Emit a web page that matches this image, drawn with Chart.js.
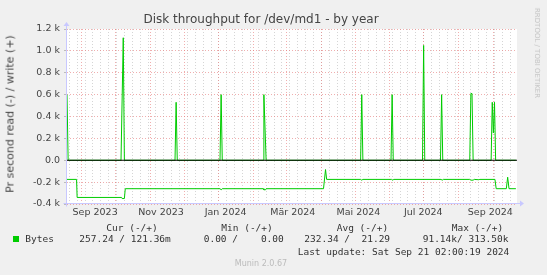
<!DOCTYPE html>
<html>
<head>
<meta charset="utf-8">
<script src="https://cdn.jsdelivr.net/npm/chart.js@4"></script>
<style>
  body { margin: 0; background: #f0f0f0; }
  #wrap { position: relative; width: 547px; height: 275px; }
  canvas { display: block; }
  .t { position: absolute; white-space: pre; color: #444; font-family: 'DejaVu Sans', sans-serif; }
  .mono { font-family: 'DejaVu Sans Mono', monospace; font-size: 9.5px; line-height: 12px; color: #333; }
</style>
</head>
<body>
<div id="wrap">
  <canvas id="diskChart" width="547" height="275"></canvas>
  <div class="t" style="left:0;width:522px;top:12px;text-align:center;font-size:12px;line-height:14px;">Disk throughput for /dev/md1 - by year</div>
  <div class="t" style="left:10px;top:114px;font-size:11px;transform:translate(-50%,-50%) rotate(-90deg);">Pr second read (-) / write (+)</div>
  <div class="t" style="left:537px;top:53px;font-size:7px;color:#c4c4c4;transform:translate(-50%,-50%) rotate(90deg);">RRDTOOL / TOBI OETIKER</div>

  <div class="t mono" style="left:106.3px;top:221.7px;">Cur (-/+)</div>
  <div class="t mono" style="left:221.3px;top:221.7px;">Min (-/+)</div>
  <div class="t mono" style="left:336.7px;top:221.7px;">Avg (-/+)</div>
  <div class="t mono" style="left:451.7px;top:221.7px;">Max (-/+)</div>

  <div style="position:absolute;left:13px;top:236px;width:6px;height:6px;background:#00cc00;"></div>
  <div class="t mono" style="left:25.3px;top:233.3px;">Bytes</div>
  <div class="t mono" style="left:79.3px;top:233.3px;">257.24 / 121.36m</div>
  <div class="t mono" style="left:203.7px;top:233.3px;">0.00 /    0.00</div>
  <div class="t mono" style="left:304.3px;top:233.3px;">232.34 /  21.29</div>
  <div class="t mono" style="left:422.7px;top:233.3px;">91.14k/ 313.50k</div>
  <div class="t mono" style="left:297.7px;top:245.7px;">Last update: Sat Sep 21 02:00:19 2024</div>

  <div class="t" style="left:0;width:522px;top:259px;text-align:center;font-size:8px;line-height:10px;color:#bbb;">Munin 2.0.67</div>
</div>
<script>
// x values are days since 19 Aug 2023 (axis runs 0..400)
const writeDays   = [0, 1, 48, 50, 51, 96, 97, 98, 136, 137, 138, 174.8, 175, 177, 261, 262, 263, 288, 289, 290, 316, 317, 318, 332, 333, 334, 358, 359, 360, 361, 377, 378, 379, 380, 381, 399];
const writeValues = [600, 0, 0, 1120, 0, 0, 530, 0, 0, 600, 0, 0, 600, 0, 0, 600, 0, 0, 600, 0, 0, 1050, 0, 0, 600, 0, 0, 610, 610, 0, 0, 530, 250, 530, 0, 0];

// reads are drawn below zero
const readDays   = [0, 8.5, 9, 48.5, 49, 51, 51.8, 136, 137, 138, 174.5, 175, 176.5, 177, 228, 229.8, 230.8, 261, 262, 263, 288.5, 289.5, 290.5, 332.5, 333.5, 334.5, 358, 359, 361, 362, 366, 367, 380.4, 381.5, 390.5, 391.7, 392.9, 399];
const readValues = [-175, -175, -340, -340, -350, -350, -260, -260, -270, -260, -260, -270, -270, -260, -260, -85, -175, -175, -182, -175, -175, -182, -175, -175, -182, -175, -175, -182, -182, -175, -178, -175, -175, -260, -260, -155, -260, -260];

// month starts (major grid) and month labels
const monthStartDays = [13, 43, 74, 104, 135, 166, 195, 226, 256, 287, 317, 348, 379];
const xLabelDays = [25, 83.6, 141, 200.7, 259, 316.7, 376.3];
const xLabels = ['Sep 2023', 'Nov 2023', 'Jan 2024', 'Mär 2024', 'Mai 2024', 'Jul 2024', 'Sep 2024'];

const yTickValues = [-400, -200, 0, 200, 400, 600, 800, 1000, 1200];
const yTickLabels = ['-0.4 k', '-0.2 k', '0.0', '0.2 k', '0.4 k', '0.6 k', '0.8 k', '1.0 k', '1.2 k'];

const GREEN = '#00cc00';
const MINOR = 'rgba(185,185,185,0.6)';
const MAJOR = 'rgba(230,120,120,0.6)';

const toPoints = (xs, ys) => xs.map((x, i) => ({ x: x, y: ys[i] }));

// white plot area, black zero rule, axis arrows
const muninLook = {
    id: 'muninLook',
    beforeDraw(chart) {
        const { ctx, chartArea: a } = chart;
        ctx.save();
        ctx.fillStyle = '#ffffff';
        ctx.fillRect(a.left, a.top, a.right - a.left, a.bottom - a.top);
        ctx.restore();
    },
    afterDatasetsDraw(chart) {
        const { ctx, chartArea: a, scales } = chart;
        const y0 = scales.y.getPixelForValue(0);
        ctx.save();
        ctx.strokeStyle = '#000';
        ctx.lineWidth = 1.2;
        ctx.beginPath();
        ctx.moveTo(a.left, y0);
        ctx.lineTo(a.right, y0);
        ctx.stroke();

        const ax = Math.round(a.left) - 0.5;
        const ay = Math.round(a.bottom) - 0.5;
        ctx.lineWidth = 1;
        ctx.strokeStyle = '#c8c8ff';
        ctx.fillStyle = '#c8c8ff';
        ctx.beginPath();
        ctx.moveTo(ax, ay + 3);
        ctx.lineTo(ax, a.top - 4);
        ctx.moveTo(ax - 3, ay);
        ctx.lineTo(a.right + 3, ay);
        ctx.stroke();
        ctx.beginPath();
        ctx.moveTo(ax - 3, a.top - 3);
        ctx.lineTo(ax, a.top - 7);
        ctx.lineTo(ax + 3, a.top - 3);
        ctx.fill();
        ctx.beginPath();
        ctx.moveTo(a.right + 3, ay - 3);
        ctx.lineTo(a.right + 7, ay);
        ctx.lineTo(a.right + 3, ay + 3);
        ctx.fill();
        ctx.restore();
    }
};

const config = {
    type: 'line',
    data: {
        datasets: [{
            label: 'Bytes',
            data: toPoints(readDays, readValues),
            borderColor: GREEN,
            borderWidth: 1,
            pointRadius: 0,
            fill: false,
            tension: 0
        }, {
            label: 'Bytes write',
            data: toPoints(writeDays, writeValues),
            borderColor: GREEN,
            borderWidth: 1,
            pointRadius: 0,
            fill: false,
            tension: 0
        }]
    },
    options: {
        responsive: false,
        animation: false,
        devicePixelRatio: 1,
        layout: { padding: { left: 0, top: 29, right: 30, bottom: 0 } },
        plugins: {
            legend: { display: false },
            tooltip: { enabled: false },
            title: { display: false }
        },
        scales: {
            x: {
                type: 'linear',
                min: 0,
                max: 400,
                afterBuildTicks(scale) {
                    const t = [];
                    for (let d = 2; d < 400; d += 7) t.push({ value: d, kind: 'week' });
                    monthStartDays.forEach(d => t.push({ value: d, kind: 'month' }));
                    xLabelDays.forEach((d, i) => t.push({ value: d, kind: 'label', text: xLabels[i] }));
                    t.sort((p, q) => p.value - q.value);
                    scale.ticks = t;
                },
                afterFit(scale) { scale.height = 71; },
                grid: {
                    color: ctx => {
                        const k = ctx.tick && ctx.tick.kind;
                        if (k === 'month') return MAJOR;
                        if (k === 'week') return MINOR;
                        return 'rgba(0,0,0,0)';
                    },
                    lineWidth: 1,
                    drawTicks: false
                },
                border: { display: false, dash: [1, 2] },
                ticks: {
                    autoSkip: false,
                    maxRotation: 0,
                    padding: 3,
                    color: '#444',
                    font: { family: 'DejaVu Sans', size: 9.5 },
                    callback: (value, index, ticks) => ticks[index].kind === 'label' ? ticks[index].text : ''
                }
            },
            y: {
                min: -400,
                max: 1200,
                afterFit(scale) { scale.width = 67; },
                ticks: {
                    stepSize: 100,
                    padding: 4,
                    color: '#444',
                    font: { family: 'DejaVu Sans', size: 9.5 },
                    callback: value => {
                        const i = yTickValues.indexOf(value);
                        return i >= 0 ? yTickLabels[i] : '';
                    }
                },
                grid: {
                    color: ctx => (ctx.tick && ctx.tick.value % 200 === 0) ? MAJOR : MINOR,
                    lineWidth: 1,
                    tickLength: 3,
                    tickColor: '#bbb',
                    tickBorderDash: []
                },
                border: { display: false, dash: [1, 2] }
            }
        }
    },
    plugins: [muninLook]
};

const ctx = document.getElementById('diskChart').getContext('2d');
const diskChart = new Chart(ctx, config);
</script>
</body>
</html>
